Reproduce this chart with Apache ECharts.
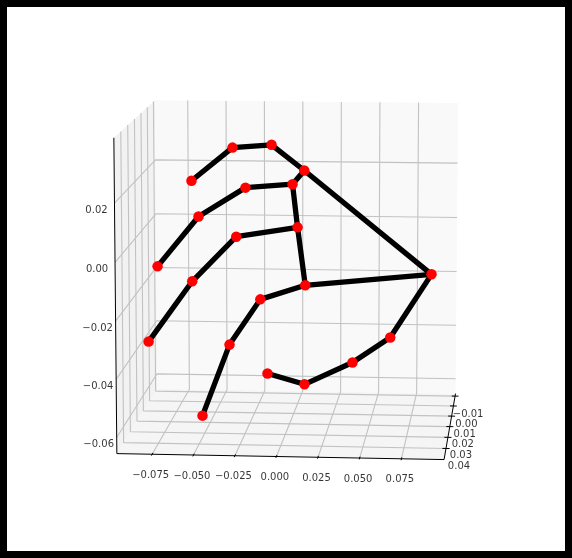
<!DOCTYPE html>
<html>
<head>
<meta charset="utf-8">
<script src="https://cdn.jsdelivr.net/npm/echarts@6/dist/echarts.min.js"></script>
<style>
html,body{margin:0;padding:0;background:#000}
#main{position:absolute;left:7px;top:7px;width:558px;height:544px;background:#fff}
</style>
</head>
<body>
<div id="main"></div>
<script>
// hand landmarks, 21 points
const xValues = [0.0912, 0.0663, 0.0421, 0.0119, -0.0124, 0.0112, -0.0063, -0.0322, -0.0625, 0.0003, -0.0274, -0.0589, -0.0870, 0.0014, -0.0358, -0.0620, -0.0876, 0.0019, -0.0230, -0.0393, -0.0533];
const yValues = [0.042, 0.04, 0.033, 0.03, 0.025, 0.028, 0.037, 0.03, 0.016, 0.014, 0.02, 0.014, 0.009, 0.006, 0.012, 0.017, 0.0226, -0.0116, 0.004, 0.015, 0.0245];
const zValues = [-0.0049, -0.0274, -0.0387, -0.0477, -0.0459, 0.0265, 0.0373, 0.0346, 0.0195, 0.0182, 0.0183, 0.0063, -0.0132, 0.0007, -0.0013, -0.0160, -0.0360, -0.0256, -0.0262, -0.0392, -0.0615];
const chains = [
  [0, 1, 2, 3, 4],
  [0, 5, 6, 7, 8],
  [9, 10, 11, 12],
  [13, 14, 15, 16],
  [17, 18, 19, 20],
  [5, 9, 13, 17, 0]
];

const xTicks = [-0.075, -0.05, -0.025, 0, 0.025, 0.05, 0.075];
const xTickLabels = ['\u22120.075', '\u22120.050', '\u22120.025', '0.000', '0.025', '0.050', '0.075'];
const yTicks = [-0.01, 0, 0.01, 0.02, 0.03, 0.04];
const yTickLabels = ['\u22120.01', '0.00', '0.01', '0.02', '0.03', '0.04'];
const zTicks = [-0.06, -0.04, -0.02, 0, 0.02];
const zTickLabels = ['\u22120.06', '\u22120.04', '\u22120.02', '0.00', '0.02'];

const xLim = [-0.0964, 0.1005];
const yLim = [0.0497, -0.0126]; // front, back (axis runs towards the viewer)
const zLim = [-0.0656, 0.0420];

// same camera as the 3d axes: elevation, azimuth offset, distance
const elev = 9.75, azim = 4.75, dist = 10.5;
const r = Math.PI / 180;
const n = [Math.cos(elev * r) * Math.sin(azim * r), -Math.cos(elev * r) * Math.cos(azim * r), Math.sin(elev * r)];
const nh = Math.hypot(n[0], n[1]);
const u = [-n[1] / nh, n[0] / nh, 0];
const v = [n[1] * u[2] - n[2] * u[1], n[2] * u[0] - n[0] * u[2], n[0] * u[1] - n[1] * u[0]];

function project(x, y, z) {
  const q = [
    (x - xLim[0]) / (xLim[1] - xLim[0]) - 0.5,
    (y - yLim[0]) / (yLim[1] - yLim[0]) - 0.5,
    (z - zLim[0]) / (zLim[1] - zLim[0]) - 0.5
  ];
  const dot = (a) => a[0] * q[0] + a[1] * q[1] + a[2] * q[2];
  const w = dist - dot(n);
  return [dot(u) / w, dot(v) / w];
}

function polyline(points, color, width) {
  return {
    type: 'line',
    data: points.map((p) => project(p[0], p[1], p[2])),
    symbol: 'none',
    silent: true,
    lineStyle: { color: color, width: width }
  };
}

function tickLabels(ticks, labels, toPoint, offset) {
  return {
    type: 'scatter',
    symbolSize: 1,
    silent: true,
    itemStyle: { color: 'rgba(0,0,0,0)' },
    label: {
      show: true,
      position: 'inside',
      formatter: '{b}',
      offset: offset,
      fontFamily: 'DejaVu Sans',
      fontSize: 10,
      color: '#000'
    },
    data: ticks.map((t, i) => ({ name: labels[i], value: toPoint(t) }))
  };
}

const [x0, x1] = xLim, [yF, yB] = yLim, [z0, z1] = zLim;
const panes = [
  { color: '#f2f2f2', pts: [[x0, yF, z0], [x0, yB, z0], [x0, yB, z1], [x0, yF, z1]] },
  { color: '#f9f9f9', pts: [[x0, yB, z0], [x1, yB, z0], [x1, yB, z1], [x0, yB, z1]] },
  { color: '#f5f5f5', pts: [[x0, yF, z0], [x1, yF, z0], [x1, yB, z0], [x0, yB, z0]] }
];

const series = [];
series.push({
  type: 'custom',
  silent: true,
  data: panes.map((p, i) => [i]),
  renderItem: function (params, api) {
    const pane = panes[params.dataIndex];
    return {
      type: 'polygon',
      shape: { points: pane.pts.map((p) => api.coord(project(p[0], p[1], p[2]))) },
      style: { fill: pane.color }
    };
  }
});

const gridColor = '#c2c2c2';
xTicks.forEach((t) => series.push(polyline([[t, yF, z0], [t, yB, z0], [t, yB, z1]], gridColor, 1.1)));
yTicks.forEach((t) => series.push(polyline([[x1, t, z0], [x0, t, z0], [x0, t, z1]], gridColor, 1.1)));
zTicks.forEach((t) => series.push(polyline([[x0, yF, t], [x0, yB, t], [x1, yB, t]], gridColor, 1.1)));

// axis lines and tick marks
series.push(polyline([[x0, yF, z0], [x1, yF, z0]], '#000', 1));
series.push(polyline([[x1, yF, z0], [x1, yB, z0]], '#000', 1));
series.push(polyline([[x0, yF, z0], [x0, yF, z1]], '#000', 1));
xTicks.forEach((t) => series.push(polyline([[t, yF - 0.0012, z0], [t, yF + 0.0012, z0]], '#000', 1)));
yTicks.forEach((t) => series.push(polyline([[x1 - 0.0022, t, z0], [x1 + 0.0022, t, z0]], '#000', 1)));

chains.forEach((c) => {
  series.push({
    type: 'line',
    data: c.map((i) => project(xValues[i], yValues[i], zValues[i])),
    symbol: 'none',
    silent: true,
    lineStyle: { color: '#000', width: 5.3 }
  });
});

series.push({
  type: 'scatter',
  z: 5,
  symbolSize: 10.5,
  silent: true,
  itemStyle: { color: '#ff0000', opacity: 1 },
  data: xValues.map((x, i) => project(x, yValues[i], zValues[i]))
});

series.push(tickLabels(xTicks, xTickLabels, (t) => project(t, yF, z0), [-1.5, 21]));
series.push(tickLabels(yTicks, yTickLabels, (t) => project(x1, t, z0), [13, 18]));
series.push(tickLabels(zTicks, zTickLabels, (t) => project(x0, yF, t), [-18, 7]));

// page pixels = a + b * projected, the plot sits at (7,7)
const a = 293.4, b = 3315.37, c = 272.2, d = -3224.49;

const chart = echarts.init(document.getElementById('main'));
chart.setOption({
  animation: false,
  grid: { left: 0, top: 0, width: 558, height: 544 },
  xAxis: { type: 'value', show: false, min: (7 - a) / b, max: (565 - a) / b },
  yAxis: { type: 'value', show: false, min: (551 - c) / d, max: (7 - c) / d },
  series: series
});
</script>
</body>
</html>
